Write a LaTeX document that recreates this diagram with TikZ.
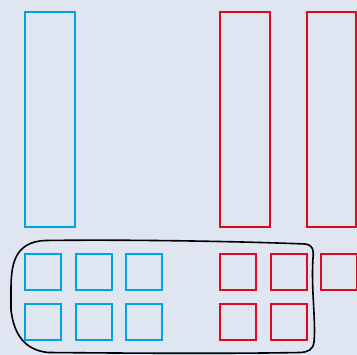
\documentclass[tikz,border=0pt]{standalone}
\definecolor{bg}{HTML}{DFE6F1}
\definecolor{cblue}{HTML}{00A2E3}
\definecolor{cred}{HTML}{DC0A26}
\begin{document}
\begin{tikzpicture}[x=1pt,y=-1pt,
  bluebox/.style={draw=cblue,line width=2pt},
  redbox/.style={draw=cred,line width=2pt}]
\fill[bg] (0,0) rectangle (357,355);
\useasboundingbox (0,0) rectangle (357,355);
% tall rectangles
\draw[bluebox] (25,12) rectangle (75,227);
\draw[redbox] (220,12) rectangle (270,227);
\draw[redbox] (306.5,12) rectangle (356,227);
% small blue squares
\foreach \x in {25,75.5,126}{
  \draw[bluebox] (\x,254.5) rectangle ++(36,36);
  \draw[bluebox] (\x,304.5) rectangle ++(36,36);
}
% small red squares
\draw[redbox] (220,254.5) rectangle ++(36,36);
\draw[redbox] (270.5,254.5) rectangle ++(36,36);
\draw[redbox] (321,254.5) rectangle ++(35.5,36);
\draw[redbox] (220,304.5) rectangle ++(36,36);
\draw[redbox] (270.5,304.5) rectangle ++(36,36);
% hand-drawn group outline
\draw[black,line width=1.6pt,line join=round]
  (11,290) .. controls (11,265) and (14,242) .. (45,240.5)
  .. controls (120,239.5) and (230,241) .. (305,244)
  .. controls (313,245) and (314,250) .. (313,258)
  .. controls (311,290) and (316,320) .. (314,342)
  .. controls (313,350) and (308,352) .. (300,352.5)
  .. controls (220,354) and (110,353) .. (48,352.5)
  .. controls (25,350) and (14,335) .. (11,310)
  -- cycle;
\end{tikzpicture}
\end{document}
